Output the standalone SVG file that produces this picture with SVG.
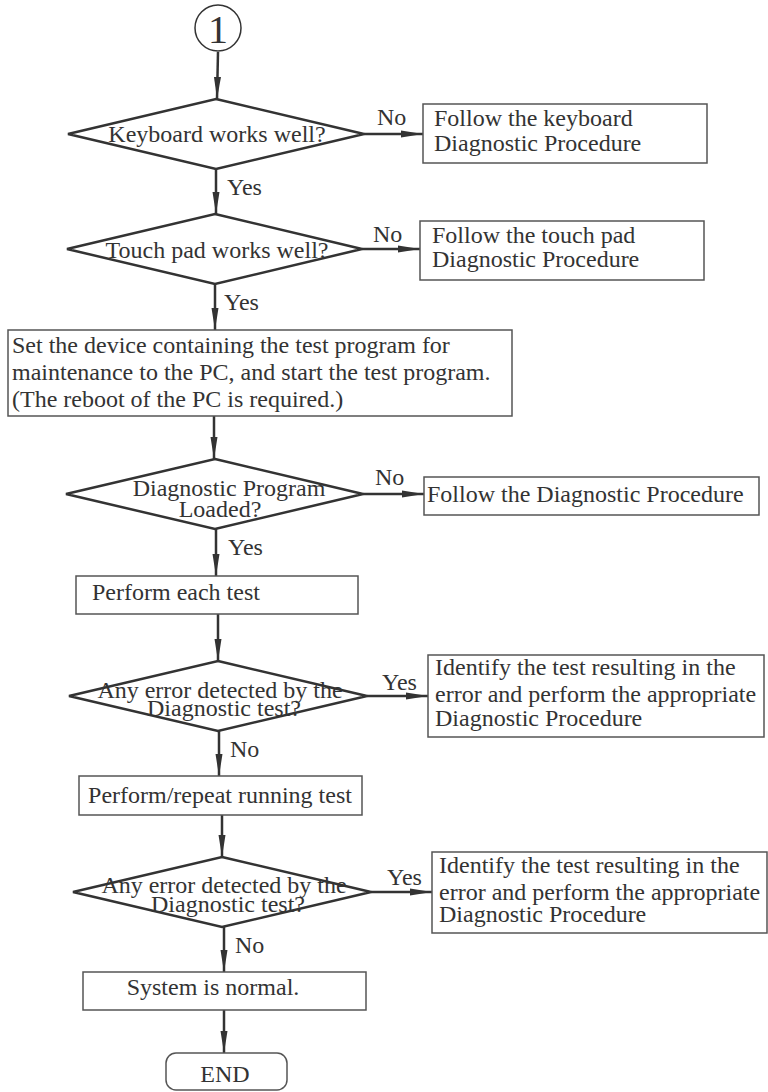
<svg xmlns="http://www.w3.org/2000/svg" width="768" height="1092" viewBox="0 0 768 1092">
<defs>
<style>
text{font-family:"Liberation Serif","Times New Roman",serif;font-size:24px;fill:#333;}
.c{text-anchor:middle;}
.box{fill:#fff;stroke:#555;stroke-width:1.5;}
.dia{fill:#fff;stroke:#333;stroke-width:2.5;stroke-linejoin:miter;}
.conn{stroke:#333;stroke-width:2.5;fill:none;marker-end:url(#arr);}
</style>
<marker id="arr" markerUnits="userSpaceOnUse" markerWidth="22" markerHeight="8" refX="22" refY="4" orient="auto">
<path d="M0,0.5 L22,4 L0,7.5 z" fill="#333"/>
</marker>
</defs>
<rect width="768" height="1092" fill="#fff"/>

<g id="connectors">
<line class="conn" x1="218" y1="52" x2="217" y2="99"/>
<line class="conn" x1="216" y1="169" x2="216" y2="214"/>
<line class="conn" x1="215" y1="284" x2="215" y2="330"/>
<line class="conn" x1="214" y1="416" x2="214" y2="459"/>
<line class="conn" x1="216" y1="529" x2="216" y2="576"/>
<line class="conn" x1="218" y1="614" x2="218" y2="661"/>
<line class="conn" x1="219" y1="731" x2="219" y2="776"/>
<line class="conn" x1="222" y1="815" x2="222" y2="857"/>
<line class="conn" x1="224" y1="927" x2="224" y2="972"/>
<line class="conn" x1="224" y1="1010" x2="224" y2="1053"/>
<line class="conn" x1="364" y1="134" x2="423" y2="134"/>
<line class="conn" x1="362" y1="249" x2="420" y2="249"/>
<line class="conn" x1="363" y1="494" x2="424" y2="494"/>
<line class="conn" x1="367" y1="696" x2="428" y2="696"/>
<line class="conn" x1="371" y1="892" x2="432" y2="892"/>
<text x="377" y="125">No</text>
<text x="227" y="195">Yes</text>
<text x="373" y="242">No</text>
<text x="224" y="310">Yes</text>
<text x="375" y="485">No</text>
<text x="228" y="555">Yes</text>
<text x="382" y="690">Yes</text>
<text x="230" y="757">No</text>
<text x="387" y="885">Yes</text>
<text x="235" y="953">No</text>
</g>

<g id="start">
<circle cx="218" cy="28" r="23" fill="#fff" stroke="#333" stroke-width="1.5"/>
<text class="c" x="218" y="43" style="font-size:40px">1</text>
</g>

<g id="d1">
<polygon class="dia" points="216,99 364,134 216,169 68,134"/>
<text class="c" x="217" y="142">Keyboard works well?</text>
</g>
<g id="b1">
<rect class="box" x="423" y="104" width="284" height="59"/>
<text x="434" y="126">Follow the keyboard<tspan x="434" y="151">Diagnostic Procedure</tspan></text>
</g>

<g id="d2">
<polygon class="dia" points="215,214 362,249 215,284 67,249"/>
<text class="c" x="217" y="258">Touch pad works well?</text>
</g>
<g id="b2">
<rect class="box" x="420" y="221" width="284" height="59"/>
<text x="432" y="243">Follow the touch pad<tspan x="432" y="267">Diagnostic Procedure</tspan></text>
</g>

<g id="setup">
<rect class="box" x="8" y="330" width="504" height="86"/>
<text x="12" y="353">Set the device containing the test program for<tspan x="12" y="380">maintenance to the PC, and start the test program.</tspan><tspan x="12" y="407">(The reboot of the PC is required.)</tspan></text>
</g>

<g id="d3">
<polygon class="dia" points="215,459 363,494 215,529 66,494"/>
<text class="c" x="229" y="496">Diagnostic Program<tspan x="220" y="517">Loaded?</tspan></text>
</g>
<g id="b3">
<rect class="box" x="424" y="477" width="335" height="38"/>
<text x="427" y="502">Follow the Diagnostic Procedure</text>
</g>

<g id="each">
<rect class="box" x="76" y="576" width="282" height="38"/>
<text x="92" y="600">Perform each test</text>
</g>

<g id="d4">
<polygon class="dia" points="218,661 367,696 218,731 69,696"/>
<text class="c" x="220" y="698">Any error detected by the<tspan x="224" y="716">Diagnostic test?</tspan></text>
</g>
<g id="b4">
<rect class="box" x="428" y="655" width="336" height="82"/>
<text x="435" y="675">Identify the test resulting in the<tspan x="435" y="702">error and perform the appropriate</tspan><tspan x="435" y="726">Diagnostic Procedure</tspan></text>
</g>

<g id="repeat">
<rect class="box" x="79" y="776" width="283" height="39"/>
<text class="c" x="220" y="803">Perform/repeat running test</text>
</g>

<g id="d5">
<polygon class="dia" points="222,857 371,892 222,927 73,892"/>
<text class="c" x="224" y="893">Any error detected by the<tspan x="228" y="912">Diagnostic test?</tspan></text>
</g>
<g id="b5">
<rect class="box" x="432" y="852" width="335" height="81"/>
<text x="439" y="873">Identify the test resulting in the<tspan x="439" y="900">error and perform the appropriate</tspan><tspan x="439" y="922">Diagnostic Procedure</tspan></text>
</g>

<g id="normal">
<rect class="box" x="83" y="972" width="283" height="38"/>
<text class="c" x="213" y="995">System is normal.</text>
</g>

<g id="end">
<rect class="box" x="166" y="1053" width="121" height="37" rx="10"/>
<text class="c" x="225" y="1082">END</text>
</g>
</svg>
